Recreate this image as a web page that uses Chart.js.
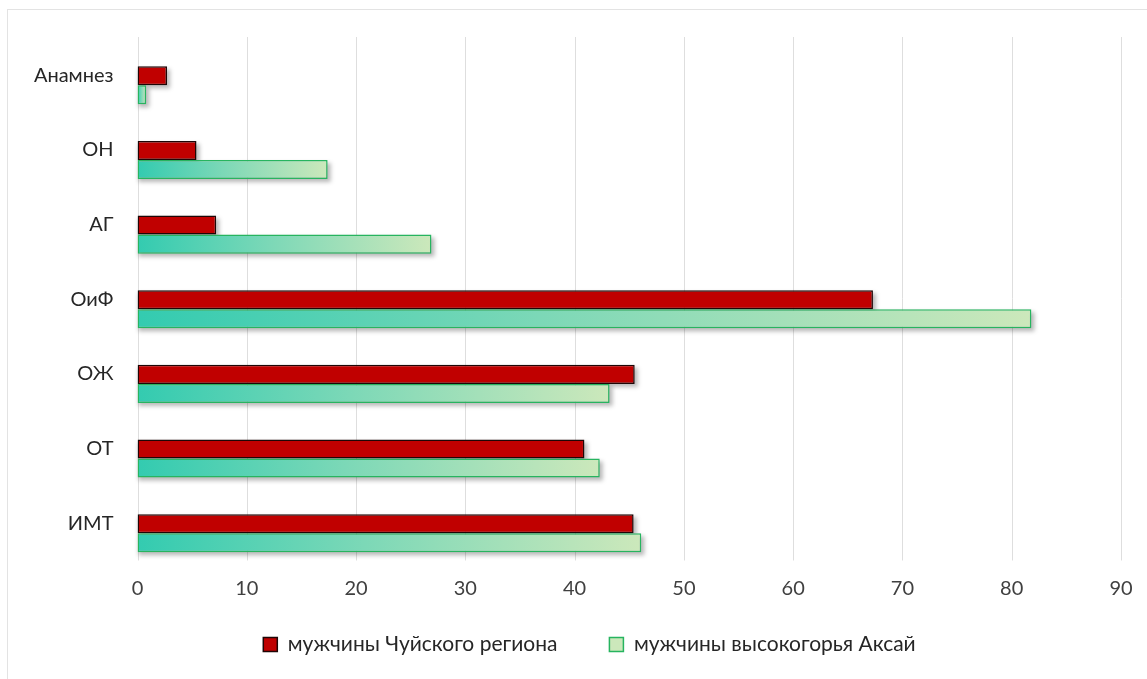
<!DOCTYPE html>
<html lang="ru">
<head>
<meta charset="utf-8">
<title>Факторы риска</title>
<script src="https://cdn.jsdelivr.net/npm/chart.js@4.4.1/dist/chart.umd.min.js"></script>
<style>
  html, body { margin: 0; padding: 0; background: #fff; }
  #wrap { position: relative; width: 1147px; height: 679px; overflow: hidden; }
  #frame { position: absolute; left: 7px; top: 9px; width: 1160px; height: 700px;
           border-left: 1.5px solid #e3e3e3; border-top: 1.5px solid #e3e3e3; box-sizing: border-box; }
  canvas { position: absolute; left: 0; top: 0; }
</style>
</head>
<body>
<div id="wrap">
  <div id="frame"></div>
  <canvas id="chart" width="1147" height="679"></canvas>
</div>
<script>
// Категории (сверху вниз) и значения двух групп
const categories = ['Анамнез', 'ОН', 'АГ', 'ОиФ', 'ОЖ', 'ОТ', 'ИМТ'];
const chuyValues = [2.7, 5.4, 7.2, 67.3, 45.5, 40.9, 45.4];
const aksaiValues = [0.8, 17.4, 26.9, 81.8, 43.2, 42.3, 46.1];
const seriesNames = ['мужчины Чуйского региона', 'мужчины высокогорья Аксай'];
const xTicks = [0, 10, 20, 30, 40, 50, 60, 70, 80, 90];

const FONT = 'Lato, "Open Sans", sans-serif';

// Градиент для зелёных полос: бирюзовый у нуля, светло-зелёный у конца полосы
function aksaiFill(ctx) {
  const chart = ctx.chart;
  const x = chart.scales && chart.scales.x;
  if (ctx.dataIndex === undefined || !x || !chart.chartArea) return '#7fd8b6';
  const v = ctx.dataset.data[ctx.dataIndex];
  const x0 = x.getPixelForValue(0);
  const x1 = x.getPixelForValue(v);
  if (x1 - x0 < 1) return '#5fd3b3';
  const g = chart.ctx.createLinearGradient(x0, 0, x1, 0);
  g.addColorStop(0, '#33cbb0');
  g.addColorStop(0.45, '#7cd8b7');
  g.addColorStop(1, '#cce8bb');
  return g;
}

// Вертикальная сетка и тени под полосами
const decor = {
  id: 'decor',
  beforeDatasetsDraw(chart) {
    const { ctx, chartArea } = chart;
    const x = chart.scales.x;
    ctx.save();
    ctx.strokeStyle = '#dedede';
    ctx.lineWidth = 1;
    xTicks.forEach(t => {
      const px = Math.round(x.getPixelForValue(t)) + 0.5;
      ctx.beginPath();
      ctx.moveTo(px, chartArea.top - 11);
      ctx.lineTo(px, chartArea.bottom - 10);
      ctx.stroke();
    });
    ctx.filter = 'blur(2px)';
    ctx.fillStyle = 'rgba(0,0,0,0.28)';
    chart.data.datasets.forEach((ds, i) => {
      chart.getDatasetMeta(i).data.forEach(bar => {
        const w = bar.x - bar.base;
        if (w <= 0) return;
        ctx.fillRect(bar.base + 1, bar.y - bar.height / 2 + 3, w + 2, bar.height);
      });
    });
    ctx.restore();
  }
};

// Легенда: центр строки под областью построения, чуть выше нижнего края
const legendPlace = {
  id: 'legendPlace',
  afterLayout(chart) {
    const lg = chart.legend;
    if (!lg) return;
    const dx = 29;
    lg.left += dx;
    lg.right += dx;
    lg.top = 582;
    lg.bottom = 668;
  }
};

new Chart(document.getElementById('chart'), {
  type: 'bar',
  data: {
    labels: categories,
    datasets: [
      {
        label: seriesNames[0],
        data: chuyValues,
        backgroundColor: '#c00000',
        borderColor: '#1e0606',
        borderWidth: 1.5,
        borderSkipped: false,
        categoryPercentage: 0.51,
        barPercentage: 1.0
      },
      {
        label: seriesNames[1],
        data: aksaiValues,
        backgroundColor: aksaiFill,
        borderColor: '#27b45f',
        borderWidth: 1.5,
        borderSkipped: false,
        categoryPercentage: 0.51,
        barPercentage: 1.0
      }
    ]
  },
  options: {
    indexAxis: 'y',
    responsive: false,
    animation: false,
    devicePixelRatio: 1,
    layout: { padding: { left: 0, right: 26, top: 48, bottom: 0 } },
    scales: {
      x: {
        min: 0,
        max: 90,
        afterBuildTicks(scale) { scale.ticks = xTicks.map(v => ({ value: v })); },
        afterFit(scale) { scale.height = 32; },
        grid: { display: false, drawTicks: false },
        border: { display: false },
        ticks: { color: '#404040', font: { family: FONT, size: 20 }, padding: 6 }
      },
      y: {
        afterFit(scale) { scale.width = 137.5; },
        grid: { display: false, drawTicks: false },
        border: { display: false },
        ticks: { color: '#262626', font: { family: FONT, size: 20 }, padding: 24, labelOffset: -10 }
      }
    },
    plugins: {
      legend: {
        position: 'bottom',
        maxHeight: 76.5,
        labels: {
          boxWidth: 14,
          boxHeight: 14,
          padding: 52,
          color: '#262626',
          font: { family: FONT, size: 21 }
        }
      },
      tooltip: { enabled: false }
    }
  },
  plugins: [decor, legendPlace]
});
</script>
</body>
</html>
